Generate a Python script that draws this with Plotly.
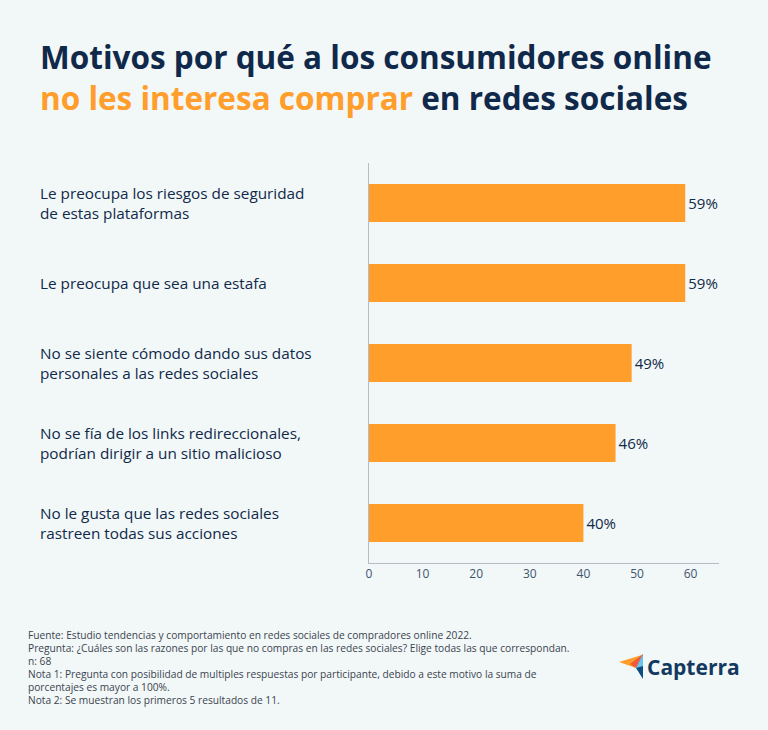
import plotly.graph_objects as go

categories = [
    "Le preocupa los riesgos de seguridad<br>de estas plataformas",
    "Le preocupa que sea una estafa",
    "No se siente cómodo dando sus datos<br>personales a las redes sociales",
    "No se fía de los links redireccionales,<br>podrían dirigir a un sitio malicioso",
    "No le gusta que las redes sociales<br>rastreen todas sus acciones",
]
values = [59, 59, 49, 46, 40]
tick_vals = [0, 10, 20, 30, 40, 50, 60]

footer_lines = [
    "Fuente: Estudio tendencias y comportamiento en redes sociales de compradores online 2022.",
    "Pregunta: ¿Cuáles son las razones por las que no compras en las redes sociales? Elige todas las que correspondan.",
    "n: 68",
    "Nota 1: Pregunta con posibilidad de multiples respuestas por participante, debido a este motivo la suma de",
    "porcentajes es mayor a 100%.",
    "Nota 2: Se muestran los primeros 5 resultados de 11.",
]

BG = "#f2f7f7"
NAVY = "#10294a"
ORANGE = "#ff9e2a"
W, H = 768, 730
L, R, T, B = 369, 49, 163, 167

fig = go.Figure(go.Bar(
    x=values, y=list(range(len(categories))), orientation="h",
    marker=dict(color=ORANGE, line=dict(width=0)),
    text=[f"{v}%" for v in values], textposition="outside",
    textfont=dict(family="Open Sans", size=15, color=NAVY),
    cliponaxis=False, hoverinfo="skip",
))

fig.update_layout(
    width=W, height=H, paper_bgcolor=BG, plot_bgcolor=BG,
    margin=dict(l=L, r=R, t=T, b=B), bargap=0.525, showlegend=False,
    font=dict(family="Open Sans", color=NAVY),
)
fig.update_xaxes(range=[0, 65.3], tickvals=tick_vals, showgrid=False, zeroline=False,
                 showline=True, linecolor="#b5bcc2", linewidth=1,
                 tickfont=dict(family="Open Sans", size=12, color="#3d5670"), ticks="", ticklen=0)
fig.update_yaxes(range=[len(categories) - 0.5, -0.5], showticklabels=False, showgrid=False,
                 zeroline=False, showline=True, linecolor="#b5bcc2", linewidth=1)

def px(xp):
    return (xp - L) / (W - L - R)

def py(yp):
    return 1 - (yp - T) / (H - T - B)

for i, c in enumerate(categories):
    fig.add_annotation(text=c, xref="paper", yref="y", x=px(38), y=i, xanchor="left",
                       yanchor="middle", showarrow=False, align="left",
                       font=dict(family="Open Sans", size=15.3, color=NAVY))

# Title (two lines in one text)
fig.add_annotation(
    text=("<b>Motivos por qué a los consumidores online<br>"
          f"<span style='color:{ORANGE}'>no les interesa comprar</span> en redes sociales</b>"),
    xref="paper", yref="paper", x=px(38), y=py(77), xanchor="left", yanchor="middle",
    showarrow=False, align="left", font=dict(family="Open Sans", size=31.5, color=NAVY))

# Footer
for j, line in enumerate(footer_lines):
    fig.add_annotation(text=line, xref="paper", yref="paper", x=px(26), y=py(635 + j * 13),
                       xanchor="left", yanchor="middle", showarrow=False,
                       font=dict(family="Open Sans", size=10.2, color="#3a4450"))

# Capterra logo
fig.add_shape(type="path", xref="paper", yref="paper",
              path=f"M {px(619)} {py(662)} L {px(642)} {py(655)} L {px(636)} {py(668)} Z",
              fillcolor="#ff9d28", line=dict(width=0))
fig.add_shape(type="path", xref="paper", yref="paper",
              path=f"M {px(636)} {py(668)} L {px(643)} {py(654)} L {px(643)} {py(679)} Z",
              fillcolor="#0f4c81", line=dict(width=0))
fig.add_shape(type="path", xref="paper", yref="paper",
              path=f"M {px(630)} {py(664)} L {px(643)} {py(654)} L {px(636)} {py(668)} Z",
              fillcolor="#ef5a3c", line=dict(width=0))
fig.add_shape(type="path", xref="paper", yref="paper",
              path=f"M {px(643)} {py(654)} L {px(643)} {py(666)} L {px(636)} {py(668)} Z",
              fillcolor="#6cc3ee", line=dict(width=0))
fig.add_annotation(text="<b>Capterra</b>", xref="paper", yref="paper", x=px(645), y=py(667),
                   xanchor="left", yanchor="middle", showarrow=False,
                   font=dict(family="Open Sans", size=21, color="#12395f"))

fig.write_html("out.html")
